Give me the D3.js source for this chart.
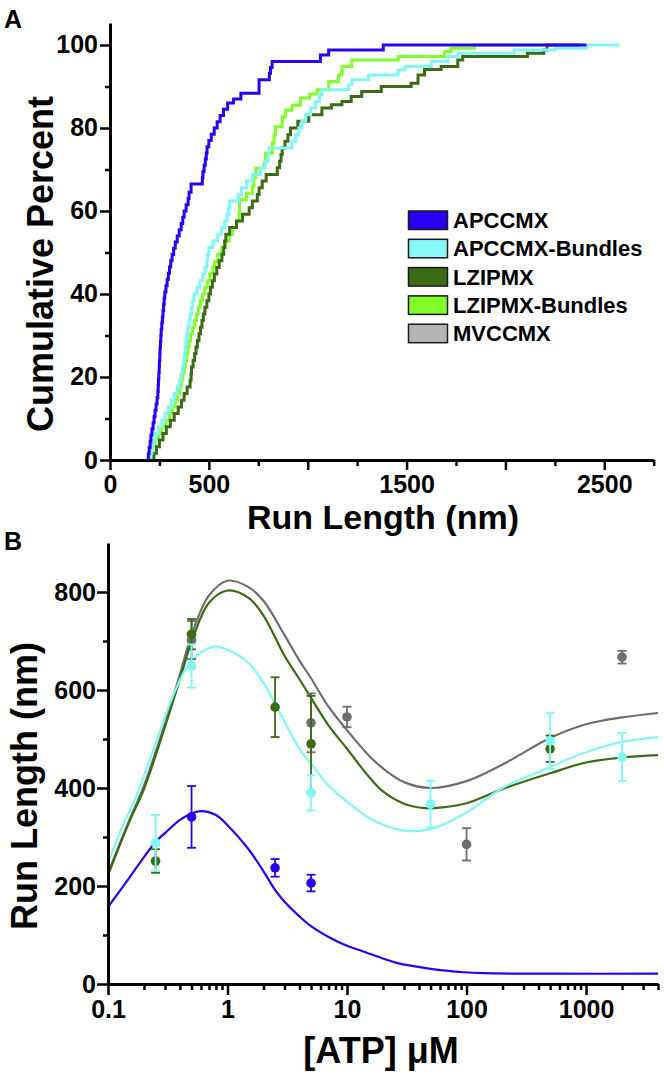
<!DOCTYPE html>
<html><head><meta charset="utf-8">
<script src="https://cdn.jsdelivr.net/npm/d3@7"></script>
<style>
body{margin:0;background:#fff}
svg{display:block}
text{font-family:"Liberation Sans",Arial,sans-serif;font-weight:bold;fill:#000}
</style>
</head><body>
<svg id="c" width="664" height="1074"></svg>
<script>
// ---------- Panel A: cumulative run-length distributions [run length nm, cumulative %] ----------
const seriesNames = ["APCCMX","APCCMX-Bundles","LZIPMX","LZIPMX-Bundles","MVCCMX"];
const legendFills = ["#2a00f5","#88f8f8","#3b6b14","#80ff2a","#b4b4b4"];
const lineColors  = ["#2a00f5","#80f6f6","#3b6b14","#80ff2a","#6e6e6e"];

const apcCdf = [[192,0],[194,1.5],[198,3],[203,4.5],[207,6],[212,7.5],[218,9],[223,10.5],[228,12],[233,13.5],[238,15],[242,16.5],[244,18],[245,19.5],[247,21],[249,22.5],[250,24],[252,25.5],[253,27],[255,28.5],[257,30],[259,31.5],[262,33],[265,34.5],[268,36],[271,37.5],[274,39],[277,40.5],[283,42],[289,43.5],[295,45],[301,46.5],[307,48],[314,49.5],[322,51],[330,52.5],[340,54],[350,55.5],[360,57],[368,58.5],[375,60],[385,61.5],[395,63],[400,64.5],[410,66.5],[467,68],[470,69.5],[476,71],[482,72.5],[487,74],[491,75.5],[500,77],[512,78.5],[527,80],[542,81.5],[557,83],[574,84.5],[595,86],[625,87],[662,88.4],[754,91.6],[806,93.2],[812,94.6],[820,96],[1064,97.6],[1106,98.8],[1382,100],[2410,100]];
const apcBundleCdf = [[201,0],[205,1.6],[212,3.2],[220,4.8],[228,6.4],[245,8],[262,9.6],[278,11.2],[295,12.8],[310,14.4],[325,16],[340,17.6],[352,19.2],[360,20.8],[366,22.4],[372,24],[377,25.6],[381,27.2],[384,28.8],[388,30.4],[394,32],[400,33.6],[406,35.2],[412,36.8],[418,38.4],[425,40],[440,41.6],[455,43.2],[468,44.8],[480,46.4],[490,48],[494,49.6],[500,51.2],[520,52.8],[545,54.4],[565,56],[580,57.6],[592,59.2],[600,60.8],[605,62.4],[650,64],[665,65.6],[690,67.2],[720,68.8],[760,70.4],[785,72],[800,73.6],[804,75.2],[921,76.8],[940,78.4],[955,80],[970,81.6],[990,83.2],[1015,84.8],[1040,86.4],[1060,88],[1072,89.2],[1206,90.4],[1223,91.6],[1307,92.8],[1457,94],[1491,94.8],[1625,96],[1709,97.2],[1759,98],[2044,98.8],[2250,99.2],[2412,100],[2578,100]];
const lzCdf = [[216,0],[222,1.6],[235,3.2],[250,4.8],[268,6.4],[285,8],[305,9.6],[325,11.2],[345,12.8],[362,14.4],[375,16],[390,17.6],[405,19.2],[410,20.8],[412,22.4],[420,24],[428,25.6],[435,27.2],[442,28.8],[450,30.4],[458,32],[465,33.6],[472,35.2],[480,36.8],[490,38.4],[500,40],[508,41.6],[518,43.2],[528,44.8],[540,46.4],[552,48],[566,49.6],[575,51.2],[580,52.8],[586,54.4],[605,56],[640,57.6],[670,59.2],[704,60.8],[720,62.4],[745,64],[754,65.6],[770,67.2],[790,68.8],[846,70.4],[858,72],[865,73.6],[871,75.2],[885,76.8],[900,78.4],[913,80],[950,81.6],[1005,83.2],[1072,84.8],[1120,85.6],[1173,86.4],[1220,87.6],[1273,88.8],[1372,90],[1523,90.8],[1558,92.8],[1591,94.1],[1675,94.8],[1759,96.4],[1784,97.2],[2111,98],[2194,98.8],[2211,100],[2379,100]];
const lzBundleCdf = [[196,0],[200,1.6],[212,3.2],[228,4.8],[245,6.4],[262,8],[282,9.6],[300,11.2],[315,12.8],[330,14.4],[342,16],[352,17.6],[360,19.2],[368,20.8],[375,22.4],[382,24],[388,25.6],[394,27.2],[400,28.8],[408,30.4],[418,32],[428,33.6],[438,35.2],[446,36.8],[456,38.4],[468,40],[480,41.6],[492,43.2],[505,44.8],[520,46.4],[528,47.8],[545,49.6],[565,51.2],[585,52.8],[603,54.4],[620,56],[640,57.6],[653,59.5],[655,62.7],[690,64.3],[720,65.9],[728,68],[737,70.3],[779,71.5],[787,73.9],[821,76.3],[830,78.4],[837,80.3],[871,82.7],[888,84.3],[921,85.5],[963,87.2],[1010,88.2],[1047,89.2],[1106,91.2],[1156,92.8],[1173,94.8],[1223,96.4],[1457,97.2],[1692,98.4],[1725,99.2],[1842,100],[2211,100]];
const cdfData = [apcCdf, apcBundleCdf, lzCdf, lzBundleCdf, null];

const aYMajor = [0,20,40,60,80,100];
const aYMinor = [10,30,50,70,90];
const aXMajor = [0,500,1000,1500,2000,2500];
const aXLabels = ["0","500","","1500","","2500"];
const aXMinor = [250,750,1250,1750,2250,2750];

// ---------- Panel B: run length vs [ATP] ----------
// fitted curves [ATP uM, run length nm]
const apcFit = [[0.1,157],[0.15,216],[0.2,259],[0.25,290],[0.3,308],[0.4,335],[0.5,348],[0.6,353],[0.8,345],[1,324],[1.5,275],[2,230],[2.5,192],[3,168],[4,138],[5,118],[7,96],[10,78],[13.5,67],[20,52],[26,43],[50,31],[95,24],[140,22],[500,21],[4000,21]];
const apcBundleFit = [[0.1,247],[0.13,318],[0.17,380],[0.25,490],[0.35,588],[0.5,660],[0.76,688],[1,682],[1.5,655],[2,614],[2.5,573],[3,535],[4,480],[5,450],[7,405],[10,372],[14,345],[20,325],[30,313],[50,316],[100,350],[200,400],[500,443],[1000,473],[2000,494],[4000,504]];
const lzFit = [[0.1,222],[0.15,330],[0.2,398],[0.3,525],[0.4,622],[0.5,698],[0.7,778],[1,803],[1.5,788],[2,752],[3,670],[4,622],[5,584],[7,528],[10,480],[15,425],[20,393],[30,368],[45,359],[60,360],[100,369],[200,398],[500,430],[1000,452],[2000,462],[4000,467]];
const mvFit = [[0.1,226],[0.15,333],[0.2,405],[0.3,532],[0.4,632],[0.5,712],[0.7,793],[1,823],[1.5,810],[2,782],[3,712],[4,660],[5,624],[7,566],[10,518],[15,468],[20,440],[30,412],[50,400],[100,414],[200,448],[500,502],[1000,530],[2000,544],[4000,553]];
// measured points [ATP uM, mean run length nm, error nm]
const apcPts = [[0.5,341,63],[2.5,237,18],[5,206,17]];
const apcBundlePts = [[0.25,288,57],[0.5,649,44],[5,390,36],[50,367,48],[500,496,57],[2000,463,49]];
const lzPts = [[0.25,251,24],[0.5,714,31],[2.5,565,61],[5,490,98],[500,480,27]];
const mvPts = [[0.5,702,39],[5,533,60],[10,545,21],[100,285,33],[2000,667,13]];

const bYMajor = [0,200,400,600,800];
const bYMinor = [100,300,500,700];
const bXMajor = [0.1,1,10,100,1000];
const bXLabels = ["0.1","1","10","100","1000"];

// ================= drawing =================
const svg = d3.select("#c");

// ---- Panel A ----
const xA = d3.scaleLinear().domain([0,2750]).range([110,653.7]);
const yA = d3.scaleLinear().domain([0,105.3]).range([460,23]);

const lineA = d3.line().x(d=>xA(d[0])).y(d=>yA(d[1])).curve(d3.curveStepAfter);
const gA = svg.append("g");
[3,2,1,0].forEach(i=>{
  if(!cdfData[i]) return;
  gA.append("path").datum(cdfData[i]).attr("d",lineA)
    .attr("fill","none").attr("stroke",lineColors[i]).attr("stroke-width",3)
    .attr("stroke-linejoin","miter");
});

function styleAxis(g, fs){
  g.select(".domain").attr("stroke","#000").attr("stroke-width",3);
  g.selectAll(".tick line").attr("stroke","#000").attr("stroke-width",2.5);
  g.selectAll("text").style("font-size",fs+"px").style("font-family",'"Liberation Sans",Arial,sans-serif').style("font-weight","bold").attr("fill","#000");
}

// A axes
const aYmin = svg.append("g").attr("transform","translate(110,0)")
  .call(d3.axisLeft(yA).tickValues(aYMinor).tickSize(5).tickFormat("").tickSizeOuter(0));
styleAxis(aYmin,25);
aYmin.select(".domain").remove();
const aY = svg.append("g").attr("transform","translate(110,0)")
  .call(d3.axisLeft(yA).tickValues(aYMajor).tickSize(10).tickPadding(2).tickSizeOuter(0));
styleAxis(aY,25);
const aXmin = svg.append("g").attr("transform","translate(0,460)")
  .call(d3.axisBottom(xA).tickValues(aXMinor).tickSize(6).tickFormat("").tickSizeOuter(0));
styleAxis(aXmin,25);
aXmin.select(".domain").remove();
const aX = svg.append("g").attr("transform","translate(0,460)")
  .call(d3.axisBottom(xA).tickValues(aXMajor).tickSize(10).tickPadding(5).tickSizeOuter(0)
    .tickFormat((d,i)=>aXLabels[i]));
styleAxis(aX,25);

svg.append("text").attr("transform","translate(53,264) rotate(-90)").attr("text-anchor","middle")
  .style("font-size","36px").text("Cumulative Percent");
svg.append("text").attr("x",383).attr("y",529).attr("text-anchor","middle")
  .style("font-size","34px").text("Run Length (nm)");
svg.append("text").attr("x",4).attr("y",28).style("font-size","25px").text("A");

// legend
const leg = svg.append("g");
seriesNames.forEach((n,i)=>{
  const y0 = 211 + i*28.3;
  leg.append("rect").attr("x",408.5).attr("y",y0).attr("width",39).attr("height",18.5)
    .attr("fill",legendFills[i]).attr("stroke","#1a1a1a").attr("stroke-width",1.5);
  leg.append("text").attr("x",453).attr("y",y0+17).style("font-size","22px").text(n);
});

// ---- Panel B ----
const xB = d3.scaleLog().domain([0.1,4000]).range([108,658]);
const yB = d3.scaleLinear().domain([0,900]).range([984,543]);

const fits = [apcFit, mvFit, lzFit, apcBundleFit];
const fitColors = [lineColors[0], lineColors[4], lineColors[2], lineColors[1]];
const lineB = d3.line().x(d=>xB(d[0])).y(d=>yB(d[1])).curve(d3.curveCatmullRom.alpha(0.5));
const gB = svg.append("g");
fits.forEach((f,i)=>{
  gB.append("path").datum(f).attr("d",lineB).attr("fill","none")
    .attr("stroke",fitColors[i]).attr("stroke-width",2.2);
});

const ptSets = [mvPts, lzPts, apcBundlePts, apcPts];
const ptColors = [lineColors[4], lineColors[2], lineColors[1], lineColors[0]];
ptSets.forEach((pts,i)=>{
  const g = gB.append("g").attr("stroke",ptColors[i]).attr("fill",ptColors[i]);
  pts.forEach(p=>{
    const x = xB(p[0]);
    g.append("line").attr("x1",x).attr("x2",x).attr("y1",yB(p[1]-p[2])).attr("y2",yB(p[1]+p[2])).attr("stroke-width",1.8);
    [p[1]-p[2], p[1]+p[2]].forEach(v=>{
      g.append("line").attr("x1",x-4.5).attr("x2",x+4.5).attr("y1",yB(v)).attr("y2",yB(v)).attr("stroke-width",1.8);
    });
    g.append("circle").attr("cx",x).attr("cy",yB(p[1])).attr("r",4.8).attr("stroke","none");
  });
});

// B axes
const minorLog = [];
[0.1,1,10,100,1000].forEach(d=>{ for(let k=2;k<=9;k++){ const v=d*k; if(v<=4000) minorLog.push(v);} });
const bXmin = svg.append("g").attr("transform","translate(0,984)")
  .call(d3.axisBottom(xB).tickValues(minorLog).tickSize(6).tickFormat("").tickSizeOuter(0));
styleAxis(bXmin,25);
bXmin.select(".domain").remove();
const bX = svg.append("g").attr("transform","translate(0,984)")
  .call(d3.axisBottom(xB).tickValues(bXMajor).tickSize(11).tickPadding(5).tickSizeOuter(0)
    .tickFormat((d,i)=>bXLabels[i]));
styleAxis(bX,25);
const bYmin = svg.append("g").attr("transform","translate(108,0)")
  .call(d3.axisLeft(yB).tickValues(bYMinor).tickSize(5).tickFormat("").tickSizeOuter(0));
styleAxis(bYmin,25);
bYmin.select(".domain").remove();
const bY = svg.append("g").attr("transform","translate(108,0)")
  .call(d3.axisLeft(yB).tickValues(bYMajor).tickSize(11).tickPadding(1).tickSizeOuter(0));
styleAxis(bY,25);

svg.append("text").attr("transform","translate(37,786) rotate(-90)").attr("text-anchor","middle")
  .style("font-size","36px").text("Run Length (nm)");
svg.append("text").attr("x",381).attr("y",1063).attr("text-anchor","middle")
  .style("font-size","36px").text("[ATP] μM");
svg.append("text").attr("x",4).attr("y",550).style("font-size","25px").text("B");
</script>
</body></html>
